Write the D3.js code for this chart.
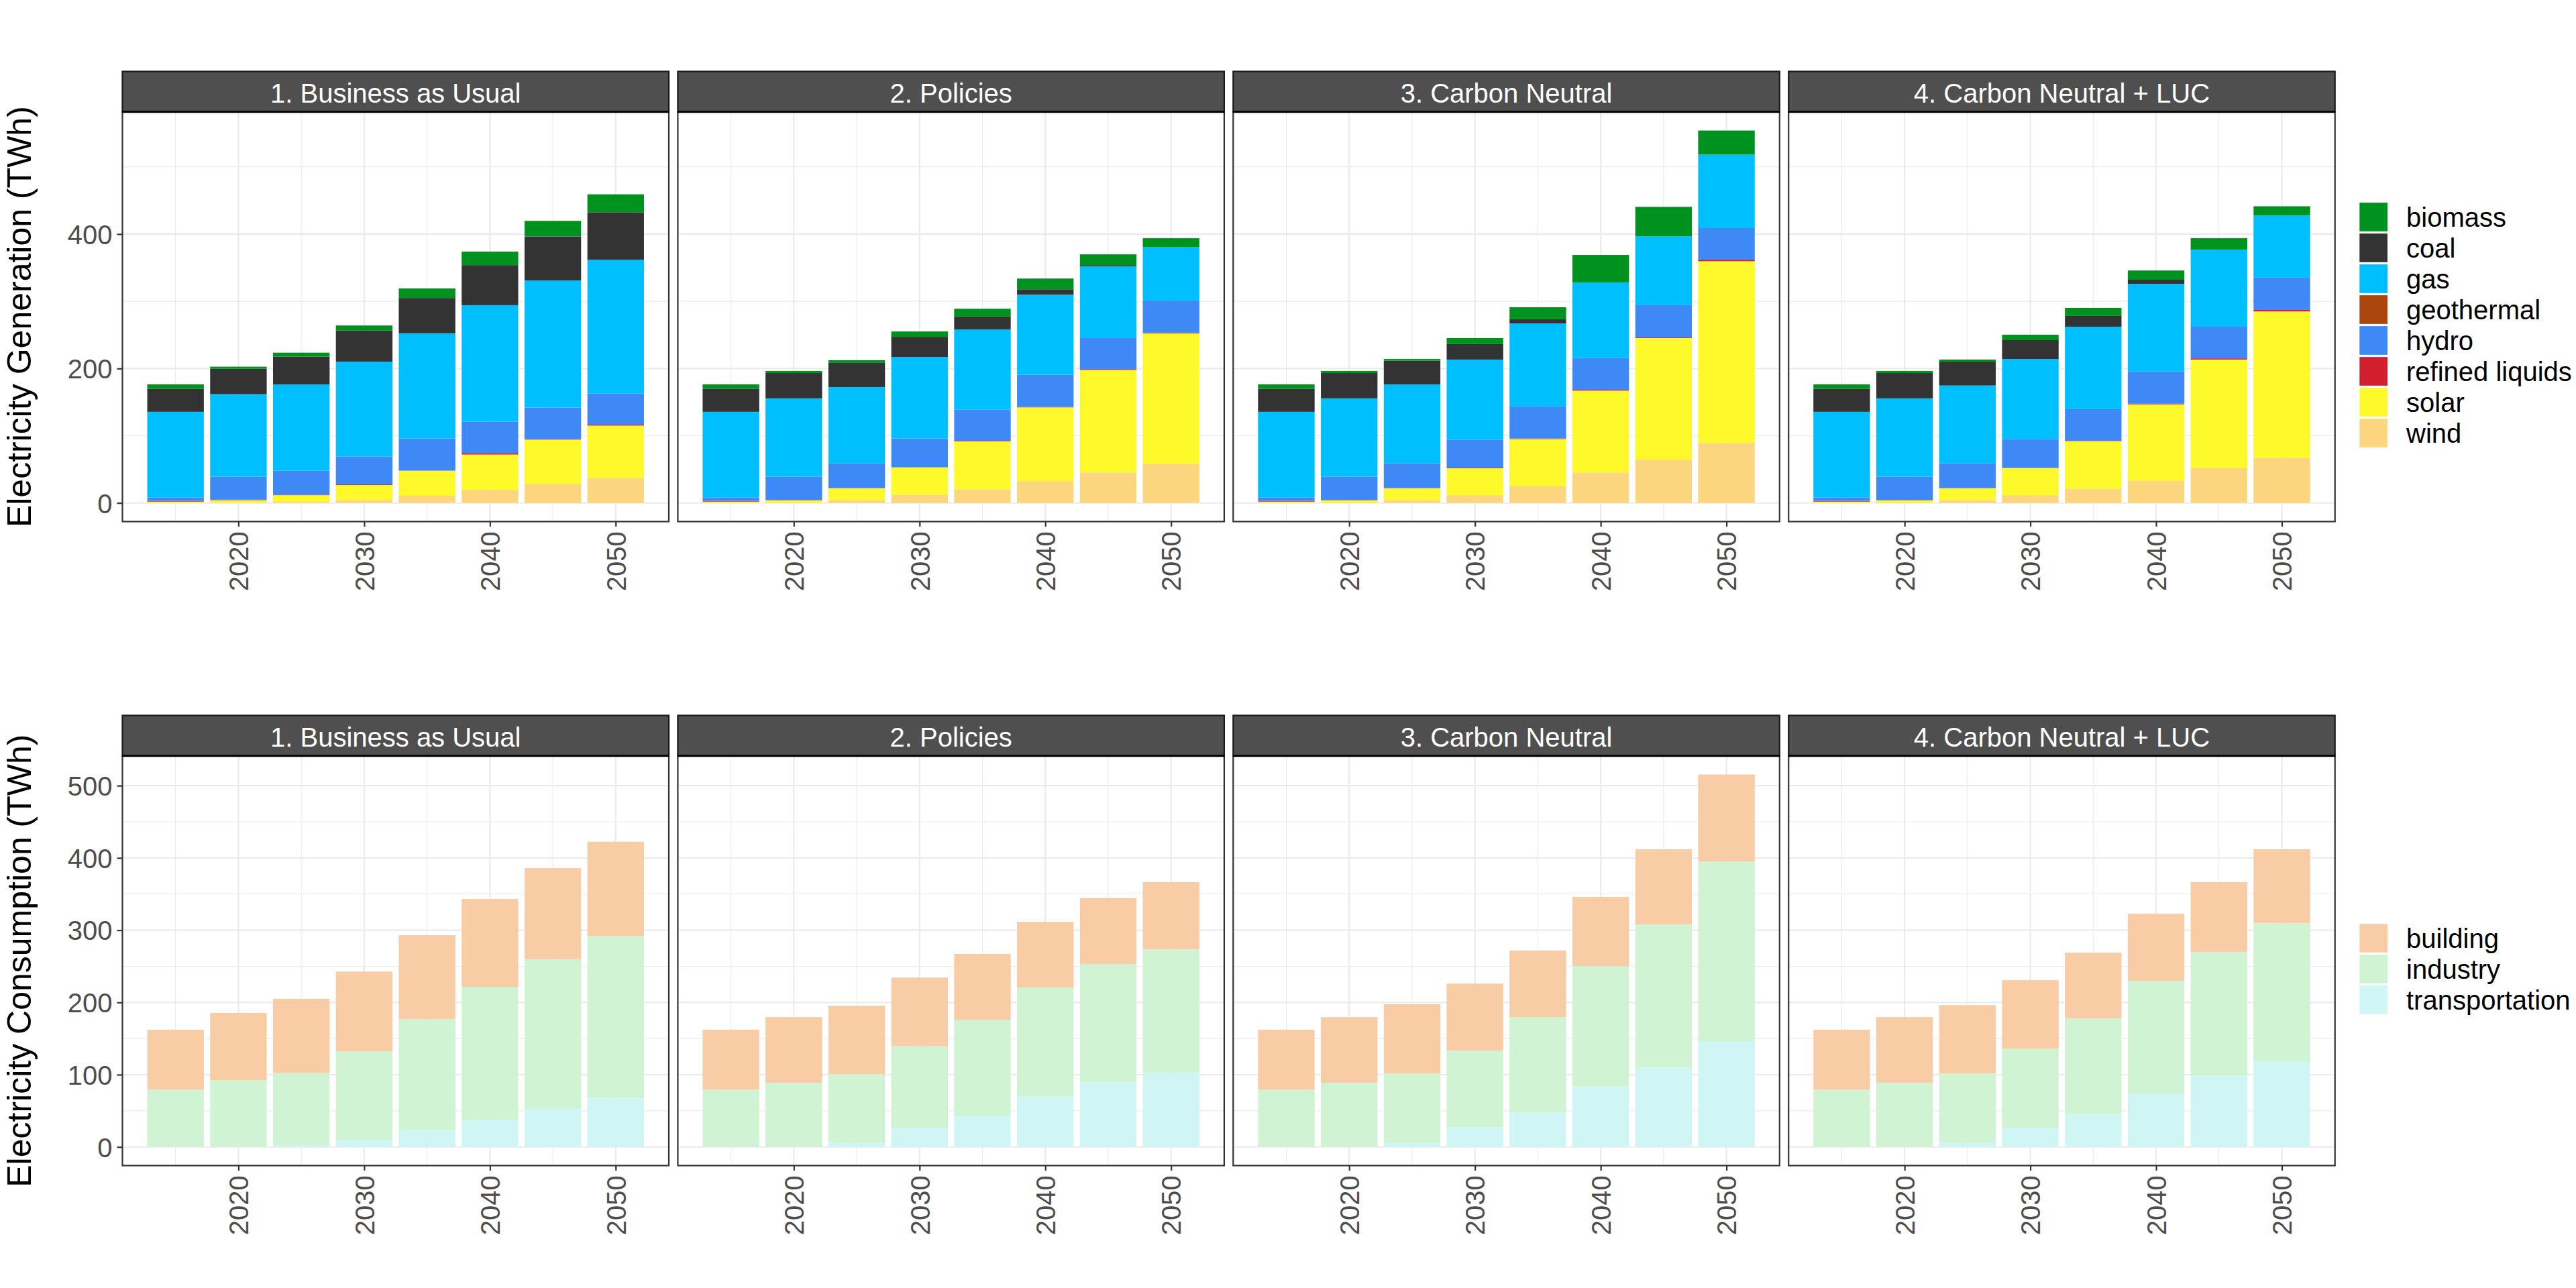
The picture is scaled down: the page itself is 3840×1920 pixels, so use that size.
<!DOCTYPE html>
<html>
<head>
<meta charset="utf-8">
<script src="https://cdn.jsdelivr.net/npm/d3@7"></script>
<style>
  html, body { margin: 0; padding: 0; background: #ffffff; }
  svg { display: block; }
  text { font-family: "Liberation Sans", Arial, sans-serif; }
</style>
</head>
<body>
<svg id="chart" width="3840" height="1920"></svg>
<script>
// ---------------- DATA ----------------
const years = [2015, 2020, 2025, 2030, 2035, 2040, 2045, 2050];
const scenarios = ["1. Business as Usual", "2. Policies", "3. Carbon Neutral", "4. Carbon Neutral + LUC"];
const xMajorTicks = [2020, 2030, 2040, 2050];
const genYTicks = [0, 200, 400];
const consYTicks = [0, 100, 200, 300, 400, 500];

const genSources = ["biomass", "coal", "gas", "geothermal", "hydro", "refined liquids", "solar", "wind"];
const genColors = ["#00921F", "#333333", "#00BFFF", "#AA460E", "#3F89F6", "#D21F2E", "#FDF92B", "#FCD67E"];

// Electricity generation (TWh), one row per scenario, one value per year
const genWind = [
  [0.5, 0.5, 1.8, 4.4, 10.7, 19.1, 28.4, 37.3],
  [0.5, 0.3, 4.4, 12.4, 20.4, 32.4, 45.3, 58.2],
  [0.5, 0.3, 4.4, 11.6, 24.9, 45.3, 64.4, 89.3],
  [0.5, 0.3, 4.4, 11.6, 21.3, 33.3, 52.0, 67.1]
];
const genSolar = [
  [1.5, 3.7, 9.8, 22.3, 37.3, 52.9, 65.8, 77.8],
  [1.5, 3.6, 17.4, 40.5, 71.2, 109.8, 152.5, 194.2],
  [1.5, 3.6, 17.4, 40.0, 70.2, 121.8, 180.9, 270.3],
  [1.5, 3.6, 17.4, 40.4, 70.7, 113.4, 161.3, 217.8]
];
const genRefined = [
  [1.0, 0.7, 0.8, 0.9, 0.3, 2.2, 0.9, 1.3],
  [1.0, 0.5, 0.4, 0.4, 0.8, 0.7, 1.3, 0.9],
  [1.0, 0.5, 0.4, 0.9, 0.9, 1.3, 0.9, 2.2],
  [1.0, 0.5, 0.4, 0.4, 0.4, 0.9, 1.8, 2.2]
];
const genHydro = [
  [5.4, 34.2, 35.6, 41.3, 47.7, 46.7, 46.7, 46.3],
  [5.4, 34.7, 36.9, 42.7, 46.3, 47.8, 46.2, 47.6],
  [5.4, 34.7, 36.9, 41.3, 47.6, 47.2, 48.0, 47.1],
  [5.4, 34.7, 36.9, 42.7, 47.2, 48.0, 47.1, 48.0]
];
const genGeothermal = [
  [0, 0, 0, 0, 0, 0, 0, 0],
  [0, 0, 0, 0, 0, 0, 0, 0],
  [0, 0, 0, 0, 0, 0, 0, 0],
  [0, 0, 0, 0, 0, 0, 0, 0]
];
const genGas = [
  [127.2, 122.7, 128.4, 141.3, 156.4, 173.3, 189.3, 199.1],
  [127.2, 116.5, 113.3, 121.3, 119.5, 119.1, 106.7, 80.0],
  [127.2, 116.5, 117.3, 119.5, 123.5, 112.4, 102.2, 109.3],
  [127.2, 116.5, 115.6, 119.1, 122.6, 130.2, 114.7, 92.5]
];
const genCoal = [
  [34.2, 37.8, 41.4, 46.2, 52.5, 59.6, 65.3, 70.6],
  [34.2, 37.7, 36.0, 29.8, 19.1, 8.0, 1.8, 0],
  [34.2, 37.7, 35.2, 23.1, 6.2, 0, 0, 0],
  [34.2, 37.7, 35.5, 28.0, 16.0, 6.2, 0, 0]
];
const genBiomass = [
  [6.6, 3.1, 5.8, 7.6, 14.2, 20.0, 23.2, 26.7],
  [6.6, 3.1, 4.0, 8.0, 11.6, 16.0, 16.0, 12.9],
  [6.6, 3.1, 2.6, 8.9, 17.8, 40.9, 44.0, 35.8],
  [6.6, 3.1, 3.1, 8.0, 12.0, 13.8, 16.9, 13.7]
];

const consSectors = ["building", "industry", "transportation"];
const consColors = ["#F8CDA6", "#CFF3D3", "#D0F5F5"];

// Electricity consumption (TWh)
const consTransportation = [
  [0, 0, 2.5, 10.0, 23.2, 37.3, 53.5, 68.0],
  [0, 0, 5.8, 26.6, 42.3, 69.7, 89.6, 102.5],
  [0, 0, 5.8, 27.4, 48.1, 83.8, 110.0, 146.5],
  [0, 0, 5.8, 26.6, 44.8, 73.9, 98.8, 118.3]
];
const consIndustry = [
  [79.3, 92.5, 100.0, 122.4, 153.6, 184.3, 206.3, 224.1],
  [79.3, 88.8, 95.0, 112.8, 133.7, 151.0, 163.5, 170.9],
  [79.3, 88.8, 95.9, 105.8, 131.6, 166.4, 197.9, 248.5],
  [79.3, 88.8, 95.9, 109.5, 133.2, 156.0, 170.9, 191.7]
];
const consBuilding = [
  [82.9, 93.0, 102.5, 110.3, 116.2, 121.6, 126.1, 130.3],
  [82.9, 90.9, 94.6, 95.0, 91.2, 90.9, 91.3, 93.0],
  [82.9, 90.9, 95.8, 92.9, 92.1, 95.9, 104.1, 120.4],
  [82.9, 90.9, 94.6, 94.6, 90.9, 92.9, 96.7, 102.0]
];

// ---------------- BUILD TABLES ----------------
function buildTable(seriesByKey, si) {
  return years.map((yr, yi) => {
    const row = { year: yr };
    Object.keys(seriesByKey).forEach(k => { row[k] = seriesByKey[k][si][yi]; });
    return row;
  });
}
const genSeries = {
  "biomass": genBiomass, "coal": genCoal, "gas": genGas, "geothermal": genGeothermal,
  "hydro": genHydro, "refined liquids": genRefined, "solar": genSolar, "wind": genWind
};
const consSeries = { "building": consBuilding, "industry": consIndustry, "transportation": consTransportation };

// ---------------- LAYOUT ----------------
const svg = d3.select("#chart");
svg.append("rect").attr("width", 3840).attr("height", 1920).attr("fill", "#ffffff");

const panelLeft0 = 182.5, panelW = 814.5, panelStep = 827.9;
const stripTop = 106.5, stripH = 60.3, panelTop = 166.8, panelBottom = 777.5;
const barWidthYears = 4.5;
const xDomain = [2012.75 - 0.05 * 39.5, 2052.25 + 0.05 * 39.5];

function drawHalf(cfg) {
  const off = cfg.offset;
  const keys = cfg.keys;            // legend order (top of stack first)
  const stackKeys = keys.slice().reverse(); // bottom first
  const colorOf = d3.scaleOrdinal().domain(keys).range(cfg.colors);

  let maxTotal = 0;
  const tables = scenarios.map((s, si) => {
    const t = buildTable(cfg.series, si);
    t.forEach(r => { maxTotal = Math.max(maxTotal, d3.sum(keys, k => r[k])); });
    return t;
  });

  const y = d3.scaleLinear()
    .domain([-0.05 * maxTotal, 1.05 * maxTotal])
    .range([panelBottom + off, panelTop + off]);

  const g = svg.append("g");

  scenarios.forEach((scen, si) => {
    const left = panelLeft0 + si * panelStep;
    const x = d3.scaleLinear().domain(xDomain).range([left, left + panelW]);
    const pg = g.append("g");

    // grid
    const minorY = cfg.minorY, majorY = cfg.yTicks;
    pg.selectAll(".gymin").data(minorY).join("line")
      .attr("x1", left).attr("x2", left + panelW)
      .attr("y1", d => y(d)).attr("y2", d => y(d))
      .attr("stroke", "#EBEBEB").attr("stroke-width", 1.1);
    const minorX = [2015, 2025, 2035, 2045];
    pg.selectAll(".gxmin").data(minorX).join("line")
      .attr("x1", d => x(d)).attr("x2", d => x(d))
      .attr("y1", panelTop + off).attr("y2", panelBottom + off)
      .attr("stroke", "#EBEBEB").attr("stroke-width", 1.1);
    pg.selectAll(".gymaj").data(majorY).join("line")
      .attr("x1", left).attr("x2", left + panelW)
      .attr("y1", d => y(d)).attr("y2", d => y(d))
      .attr("stroke", "#EBEBEB").attr("stroke-width", 2.2);
    pg.selectAll(".gxmaj").data(xMajorTicks).join("line")
      .attr("x1", d => x(d)).attr("x2", d => x(d))
      .attr("y1", panelTop + off).attr("y2", panelBottom + off)
      .attr("stroke", "#EBEBEB").attr("stroke-width", 2.2);

    // bars
    const stacked = d3.stack().keys(stackKeys)(tables[si]);
    pg.selectAll(".layer").data(stacked).join("g")
      .attr("fill", d => colorOf(d.key))
      .selectAll("rect").data(d => d).join("rect")
      .attr("x", d => x(d.data.year - barWidthYears / 2))
      .attr("width", d => x(d.data.year + barWidthYears / 2) - x(d.data.year - barWidthYears / 2))
      .attr("y", d => y(d[1]))
      .attr("height", d => Math.max(0, y(d[0]) - y(d[1])));

    // panel border
    pg.append("rect")
      .attr("x", left).attr("y", panelTop + off)
      .attr("width", panelW).attr("height", panelBottom - panelTop)
      .attr("fill", "none").attr("stroke", "#333333").attr("stroke-width", 2.2);

    // strip
    pg.append("rect")
      .attr("x", left).attr("y", stripTop + off)
      .attr("width", panelW).attr("height", stripH)
      .attr("fill", "#4F4F4F").attr("stroke", "#1A1A1A").attr("stroke-width", 2.2);
    pg.append("line")
      .attr("x1", left).attr("x2", left + panelW)
      .attr("y1", panelTop + off).attr("y2", panelTop + off)
      .attr("stroke", "#000000").attr("stroke-width", 3);
    pg.append("text")
      .attr("x", left + panelW / 2).attr("y", stripTop + off + 46)
      .attr("text-anchor", "middle").attr("fill", "#ffffff")
      .attr("font-size", 40).text(scen);

    // x axis
    const xa = pg.append("g")
      .attr("transform", `translate(0,${panelBottom + off})`)
      .call(d3.axisBottom(x).tickValues(xMajorTicks).tickSize(7.5).tickFormat(d3.format("d")));
    xa.select(".domain").remove();
    xa.selectAll(".tick line").attr("stroke", "#333333").attr("stroke-width", 2.2);
    xa.selectAll(".tick text")
      .attr("fill", "#4D4D4D").attr("font-size", 40)
      .attr("font-family", '"Liberation Sans", Arial, sans-serif')
      .attr("text-anchor", "end")
      .attr("dy", null)
      .attr("y", 0)
      .attr("transform", "translate(14.3,14.8) rotate(-90)");

    // y axis (first panel only)
    if (si === 0) {
      const ya = pg.append("g")
        .attr("transform", `translate(${left},0)`)
        .call(d3.axisLeft(y).tickValues(majorY).tickSize(8).tickPadding(7).tickFormat(d3.format("d")));
      ya.select(".domain").remove();
      ya.selectAll(".tick line").attr("stroke", "#333333").attr("stroke-width", 2.2);
      ya.selectAll(".tick text")
        .attr("fill", "#4D4D4D").attr("font-size", 40)
        .attr("font-family", '"Liberation Sans", Arial, sans-serif')
        .attr("dy", "0.36em");
    }
  });

  // axis title
  const cy = (panelTop + panelBottom) / 2 + off;
  g.append("text")
    .attr("transform", `translate(46,${cy}) rotate(-90)`)
    .attr("text-anchor", "middle").attr("fill", "#000000")
    .attr("font-size", 50).text(cfg.title);

  // legend
  const keyX = 3517.3, keyW = 41.7, keyH = 42.7, step = 46;
  const n = keys.length;
  const legTop = 484.5 + off - ((n - 1) * step + keyH) / 2;
  const lg = g.append("g");
  keys.forEach((k, i) => {
    const ky = legTop + i * step;
    lg.append("rect").attr("x", keyX).attr("y", ky)
      .attr("width", keyW).attr("height", keyH).attr("fill", colorOf(k));
    lg.append("text").attr("x", 3587).attr("y", ky + keyH / 2 + 14.5)
      .attr("font-size", 40).attr("fill", "#000000").text(k);
  });
}

drawHalf({
  offset: 0, keys: genSources, colors: genColors, series: genSeries,
  yTicks: genYTicks, minorY: [100, 300, 500], title: "Electricity Generation (TWh)"
});
drawHalf({
  offset: 960, keys: consSectors, colors: consColors, series: consSeries,
  yTicks: consYTicks, minorY: [50, 150, 250, 350, 450], title: "Electricity Consumption (TWh)"
});
</script>
</body>
</html>
